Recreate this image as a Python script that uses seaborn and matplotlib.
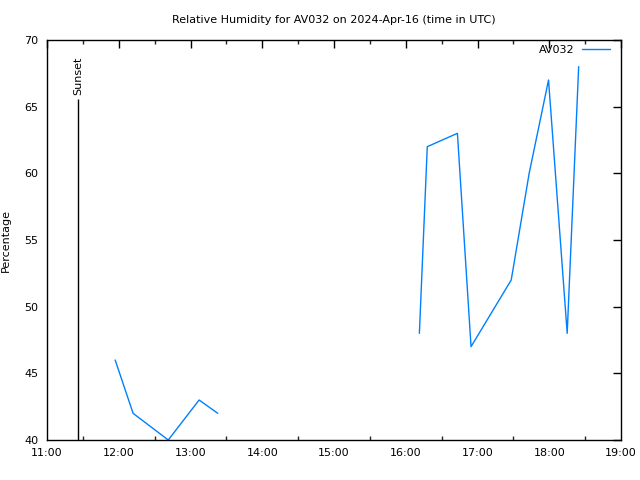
import matplotlib
matplotlib.use("Agg")
import matplotlib.pyplot as plt
from matplotlib.ticker import MultipleLocator, FuncFormatter
import seaborn as sns
import pandas as pd

sns.set_style("white")
plt.rcParams['font.family'] = ['DejaVu Sans']
plt.rcParams['text.color'] = 'black'
plt.rcParams['axes.labelcolor'] = 'black'

# Times in decimal hours (UTC) and relative humidity values
seg1_hours = [11.95, 12.20, 12.69, 13.12, 13.38]
seg1_values = [46, 42, 40, 43, 42]
seg2_hours = [16.19, 16.30, 16.72, 16.91, 17.47, 17.72, 17.99, 18.25, 18.41]
seg2_values = [48, 62, 63, 47, 52, 60, 67, 48, 68]
sunset_hour = 11.43
station = "AV032"
x_ticks = [11, 12, 13, 14, 15, 16, 17, 18, 19]
y_ticks = [40, 45, 50, 55, 60, 65, 70]

df1 = pd.DataFrame({"hour": seg1_hours, "rh": seg1_values})
df2 = pd.DataFrame({"hour": seg2_hours, "rh": seg2_values})

fig = plt.figure(figsize=(6.4, 4.8), dpi=100)
ax = fig.add_axes([47/640, 40/480, 574/640, 400/480])

color = "#0080ff"
sns.lineplot(data=df1, x="hour", y="rh", color=color, linewidth=1, ax=ax,
             sort=False, label=station)
sns.lineplot(data=df2, x="hour", y="rh", color=color, linewidth=1, ax=ax,
             sort=False, legend=False)

ax.vlines(sunset_hour, 40, 65.6, color="black", linewidth=1)
ax.text(sunset_hour, 65.9, "Sunset", rotation=90, ha="center", va="bottom",
        fontsize=8, color="black")

ax.set_xlim(11, 19)
ax.set_ylim(40, 70)
ax.set_xticks(x_ticks)
ax.xaxis.set_minor_locator(MultipleLocator(0.5))
ax.xaxis.set_major_formatter(FuncFormatter(lambda v, p: f"{int(round(v)):02d}:00"))
ax.set_yticks(y_ticks)
ax.tick_params(axis="both", which="major", direction="in", length=6, width=1,
               top=True, right=True, labelsize=8, pad=6, colors="black")
ax.tick_params(axis="x", which="minor", direction="in", length=3, width=1,
               top=True, bottom=True)
for s in ax.spines.values():
    s.set_color("black")
    s.set_linewidth(1)

ax.set_xlabel("")
ax.set_ylabel("Percentage", fontsize=8, color="black")
ax.yaxis.set_label_coords(-0.063, 0.5)
ax.set_title("Relative Humidity for AV032 on 2024-Apr-16 (time in UTC)",
             fontsize=8, pad=12, color="black")

leg = ax.legend(loc="upper right", bbox_to_anchor=(1.0, 1.015), frameon=False,
                fontsize=8, markerfirst=False, handlelength=2.5,
                borderaxespad=0.6, handletextpad=0.65)
for t in leg.get_texts():
    t.set_color("black")

fig.savefig("out.png", dpi=100)
